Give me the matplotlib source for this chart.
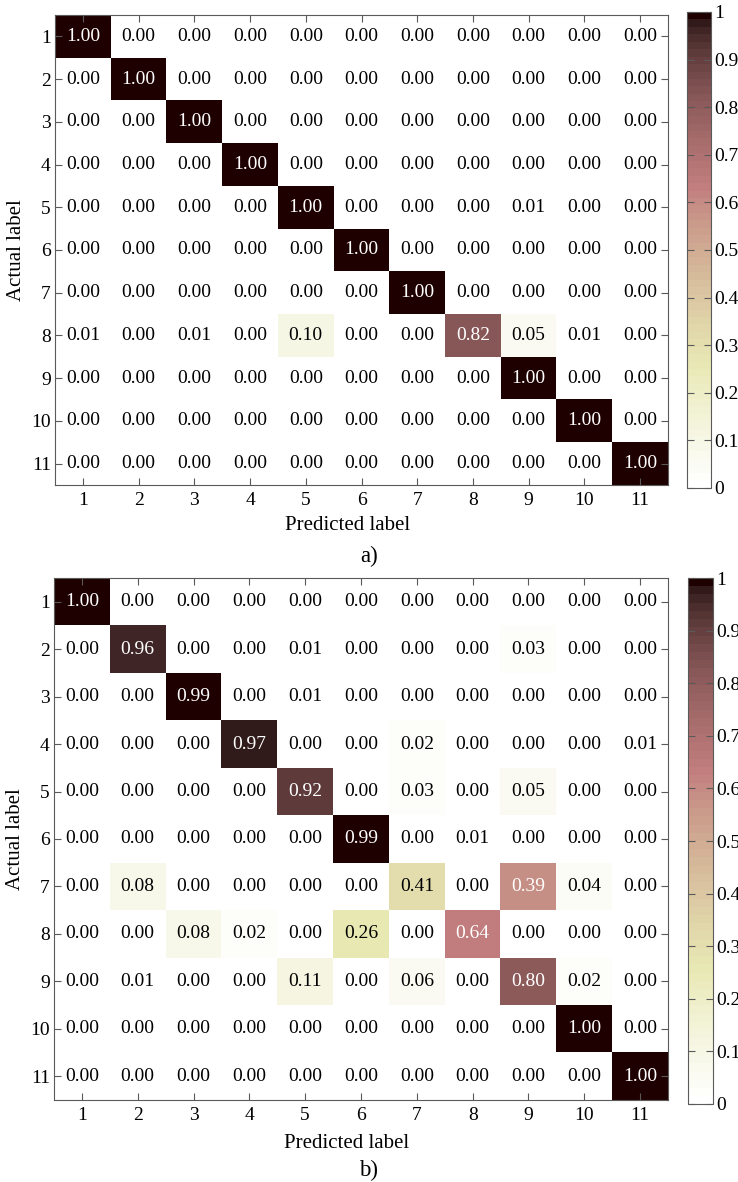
import numpy as np
import matplotlib
matplotlib.use('Agg')
import matplotlib.pyplot as plt

plt.rcParams['font.family'] = ['Liberation Serif', 'DejaVu Serif']

labels = [str(i) for i in range(1, 12)]
cbar_labels = ['0', '0.1', '0.2', '0.3', '0.4', '0.5', '0.6', '0.7', '0.8', '0.9', '1']

# confusion matrix a)
cm_a = np.eye(11)
cm_a[4, 8] = 0.01
cm_a[7] = [0.01, 0.00, 0.01, 0.00, 0.10, 0.00, 0.00, 0.82, 0.05, 0.01, 0.00]

# confusion matrix b)
cm_b = np.array([
    [1.00, 0.00, 0.00, 0.00, 0.00, 0.00, 0.00, 0.00, 0.00, 0.00, 0.00],
    [0.00, 0.96, 0.00, 0.00, 0.01, 0.00, 0.00, 0.00, 0.03, 0.00, 0.00],
    [0.00, 0.00, 0.99, 0.00, 0.01, 0.00, 0.00, 0.00, 0.00, 0.00, 0.00],
    [0.00, 0.00, 0.00, 0.97, 0.00, 0.00, 0.02, 0.00, 0.00, 0.00, 0.01],
    [0.00, 0.00, 0.00, 0.00, 0.92, 0.00, 0.03, 0.00, 0.05, 0.00, 0.00],
    [0.00, 0.00, 0.00, 0.00, 0.00, 0.99, 0.00, 0.01, 0.00, 0.00, 0.00],
    [0.00, 0.08, 0.00, 0.00, 0.00, 0.00, 0.41, 0.00, 0.39, 0.04, 0.00],
    [0.00, 0.00, 0.08, 0.02, 0.00, 0.26, 0.00, 0.64, 0.00, 0.00, 0.00],
    [0.00, 0.01, 0.00, 0.00, 0.11, 0.00, 0.06, 0.00, 0.80, 0.02, 0.00],
    [0.00, 0.00, 0.00, 0.00, 0.00, 0.00, 0.00, 0.00, 0.00, 1.00, 0.00],
    [0.00, 0.00, 0.00, 0.00, 0.00, 0.00, 0.00, 0.00, 0.00, 0.00, 1.00],
])
# in the original the shading of row 7 does not follow the printed numbers
shade_b = cm_b.copy()
shade_b[6, 6] = 0.30
shade_b[6, 8] = 0.58

cmap = plt.get_cmap('pink_r', 64)
edge = '#5a5a5a'
W, H = 738, 1182


def draw_cm(ax, cax, shown, shade, xlab_y):
    im = ax.imshow(shade, cmap=cmap, vmin=0, vmax=1, aspect='auto',
                   interpolation='nearest')
    for i in range(shown.shape[0]):
        for j in range(shown.shape[1]):
            col = 'white' if shade[i, j] > 0.5 else 'black'
            ax.text(j, i, f'{shown[i, j]:.2f}', ha='center', va='center',
                    fontsize=14, color=col)
    ax.set_xticks(range(11))
    ax.set_yticks(range(11))
    ax.set_xticklabels(labels)
    ax.set_yticklabels(labels)
    ax.tick_params(direction='in', length=5, width=0.8, color=edge,
                   labelsize=14, top=True, right=True, pad=5)
    ax.tick_params(axis='y', pad=3)
    for s in ax.spines.values():
        s.set_color(edge)
        s.set_linewidth(0.8)
    ax.set_xlabel('Predicted label', fontsize=15)
    ax.xaxis.set_label_coords(0.477, xlab_y)
    ax.xaxis.label.set_va('center')
    ax.set_ylabel('Actual label', fontsize=15, labelpad=4)

    cb = plt.colorbar(im, cax=cax)
    cb.set_ticks(np.round(np.arange(0, 1.01, 0.1), 1))
    cb.set_ticklabels(cbar_labels)
    cb.ax.tick_params(direction='in', length=5, width=0.8, color=edge,
                      labelsize=14, left=True, right=True, pad=2)
    cb.outline.set_edgecolor(edge)
    cb.outline.set_linewidth(0.8)


fig = plt.figure(figsize=(W / 100, H / 100), dpi=100)


def box(x0, y0, x1, y1):
    return [x0 / W, 1 - y1 / H, (x1 - x0) / W, (y1 - y0) / H]


ax_a = fig.add_axes(box(55, 15, 668, 485))
cax_a = fig.add_axes(box(687, 12, 711, 488))
ax_b = fig.add_axes(box(54, 578, 668, 1100))
cax_b = fig.add_axes(box(688, 578, 713, 1104))

draw_cm(ax_a, cax_a, cm_a, cm_a, -(526 - 485) / 470)
draw_cm(ax_b, cax_b, cm_b, shade_b, -(1143 - 1100) / 522)

fig.text(369 / W, 1 - 556 / H, 'a)', ha='center', va='center', fontsize=16.5)
fig.text(369 / W, 1 - 1170 / H, 'b)', ha='center', va='center', fontsize=16.5)

fig.savefig('out.png', dpi=100)
